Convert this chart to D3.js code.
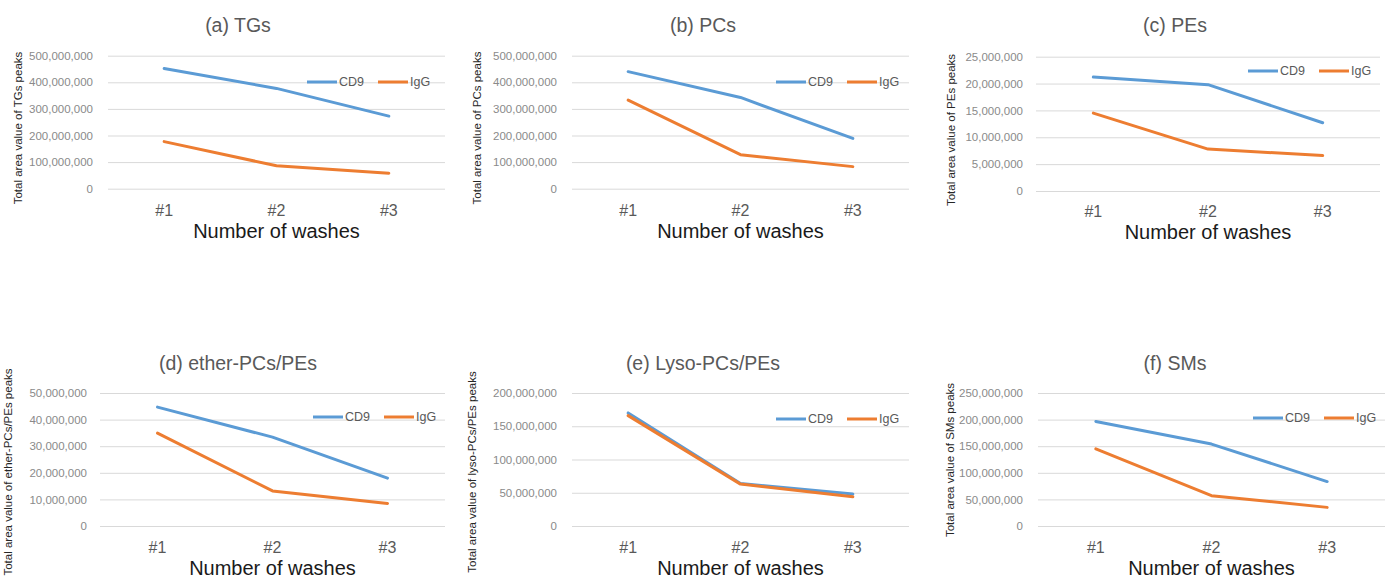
<!DOCTYPE html>
<html>
<head>
<meta charset="utf-8">
<script src="https://cdn.jsdelivr.net/npm/d3@7"></script>
<style>
  body { margin: 0; background: #fff; }
  text { font-family: "Liberation Sans", Arial, sans-serif; }
</style>
</head>
<body>
<script>
var width = 1392,
    height = 583;

// data
var washes = ["#1", "#2", "#3"];
var seriesNames = ["CD9", "IgG"];
var seriesColors = ["#5b9bd5", "#ed7d31"];

var panelTitles = ["(a) TGs", "(b) PCs", "(c) PEs", "(d) ether-PCs/PEs", "(e) Lyso-PCs/PEs", "(f) SMs"];
var yTitles = [
  "Total area value of TGs peaks",
  "Total area value of PCs peaks",
  "Total area value of PEs peaks",
  "Total area value of ether-PCs/PEs peaks",
  "Total area value of lyso-PCs/PEs peaks",
  "Total area value of SMs peaks"
];
var yMax  = [500e6, 500e6, 25e6, 50e6, 200e6, 250e6];
var yStep = [100e6, 100e6, 5e6, 10e6, 50e6, 50e6];

var tgsCD9   = [452e6, 377e6, 273e6];
var tgsIgG   = [177e6, 86e6, 58e6];
var pcsCD9   = [440e6, 343e6, 189e6];
var pcsIgG   = [333e6, 128e6, 83e6];
var pesCD9   = [21.2e6, 19.8e6, 12.7e6];
var pesIgG   = [14.5e6, 7.8e6, 6.6e6];
var etherCD9 = [44.7e6, 33.4e6, 18.0e6];
var etherIgG = [34.9e6, 13.2e6, 8.5e6];
var lysoCD9  = [170e6, 64e6, 48e6];
var lysoIgG  = [166e6, 63e6, 44e6];
var smsCD9   = [196.5e6, 154e6, 83.5e6];
var smsIgG   = [145e6, 57e6, 35e6];

var panelData = [
  [tgsCD9, tgsIgG], [pcsCD9, pcsIgG], [pesCD9, pesIgG],
  [etherCD9, etherIgG], [lysoCD9, lysoIgG], [smsCD9, smsIgG]
];

// layout of each panel (pixels)
var layout = [
  {left: 108,  right: 445,  top: 55.7, bottom: 188.7, pad: 15, titleX: 238,  titleY: 25,  yTitleX: 18,  yTitleY: 128, xTickY: 210, xLabY: 231, legX: 307,  legY: 82},
  {left: 572,  right: 909,  top: 55.7, bottom: 188.7, pad: 15, titleX: 703,  titleY: 25,  yTitleX: 477, yTitleY: 128, xTickY: 210, xLabY: 231, legX: 776,  legY: 82},
  {left: 1036, right: 1380, top: 56.7, bottom: 191,   pad: 13, titleX: 1175, titleY: 25,  yTitleX: 951, yTitleY: 130, xTickY: 211, xLabY: 232, legX: 1248, legY: 71},
  {left: 100,  right: 445,  top: 393,  bottom: 526,   pad: 13, titleX: 238,  titleY: 363, yTitleX: 8,   yTitleY: 472, xTickY: 547, xLabY: 568, legX: 313,  legY: 417},
  {left: 572,  right: 909,  top: 393,  bottom: 526,   pad: 15, titleX: 703,  titleY: 363, yTitleX: 472, yTitleY: 472, xTickY: 547, xLabY: 568, legX: 776,  legY: 419},
  {left: 1038, right: 1385, top: 393,  bottom: 526,   pad: 15, titleX: 1175, titleY: 363, yTitleX: 950, yTitleY: 460, xTickY: 547, xLabY: 568, legX: 1253, legY: 418}
];

var svg = d3.select("body").append("svg")
    .attr("width", width)
    .attr("height", height);

layout.forEach(function(p, i) {
  var g = svg.append("g");

  var x = d3.scaleBand()
      .domain(washes)
      .range([p.left, p.right]);
  var y = d3.scaleLinear()
      .domain([0, yMax[i]])
      .range([p.bottom, p.top]);

  // y axis with gridlines
  var yAxis = g.append("g")
      .attr("transform", "translate(" + p.left + ",0)")
      .call(d3.axisLeft(y)
        .tickValues(d3.range(0, yMax[i] + yStep[i] / 2, yStep[i]))
        .tickFormat(d3.format(","))
        .tickSize(-(p.right - p.left))
        .tickPadding(p.pad));
  yAxis.select(".domain").remove();
  yAxis.selectAll("line").attr("stroke", "#d9d9d9").attr("stroke-width", 1);
  yAxis.selectAll("text")
      .attr("fill", "#8a8a8a")
      .attr("font-size", "11.5px")
      .style("font-family", "'Liberation Sans', Arial, sans-serif");

  // x axis labels only
  var xAxis = g.append("g")
      .attr("transform", "translate(0," + p.bottom + ")")
      .call(d3.axisBottom(x).tickSize(0).tickPadding(0));
  xAxis.select(".domain").remove();
  xAxis.selectAll("text")
      .attr("y", p.xTickY - p.bottom)
      .attr("dy", "0.35em")
      .attr("fill", "#595959")
      .attr("font-size", "16px")
      .style("font-family", "'Liberation Sans', Arial, sans-serif");

  g.append("text")
      .attr("x", (p.left + p.right) / 2)
      .attr("y", p.xLabY)
      .attr("dy", "0.35em")
      .attr("text-anchor", "middle")
      .attr("fill", "#1a1a1a")
      .attr("font-size", "20px")
      .text("Number of washes");

  // title
  g.append("text")
      .attr("x", p.titleX)
      .attr("y", p.titleY)
      .attr("dy", "0.35em")
      .attr("text-anchor", "middle")
      .attr("fill", "#595959")
      .attr("font-size", "19.5px")
      .text(panelTitles[i]);

  // y title
  g.append("text")
      .attr("transform", "translate(" + p.yTitleX + "," + p.yTitleY + ") rotate(-90)")
      .attr("dy", "0.35em")
      .attr("text-anchor", "middle")
      .attr("fill", "#262626")
      .attr("font-size", "11.5px")
      .text(yTitles[i]);

  // lines
  var line = d3.line()
      .x(function(d, j) { return x(washes[j]) + x.bandwidth() / 2; })
      .y(function(d) { return y(d); });

  panelData[i].forEach(function(vals, k) {
    g.append("path")
        .datum(vals)
        .attr("fill", "none")
        .attr("stroke", seriesColors[k])
        .attr("stroke-width", 3)
        .attr("stroke-linejoin", "round")
        .attr("stroke-linecap", "round")
        .attr("d", line);
  });

  // legend
  seriesNames.forEach(function(name, k) {
    var lx = p.legX + k * 71;
    g.append("line")
        .attr("x1", lx).attr("x2", lx + 30)
        .attr("y1", p.legY).attr("y2", p.legY)
        .attr("stroke", seriesColors[k])
        .attr("stroke-width", 3);
    g.append("text")
        .attr("x", lx + 32)
        .attr("y", p.legY)
        .attr("dy", "0.35em")
        .attr("fill", "#595959")
        .attr("font-size", "12.5px")
        .text(name);
  });
});
</script>
</body>
</html>
